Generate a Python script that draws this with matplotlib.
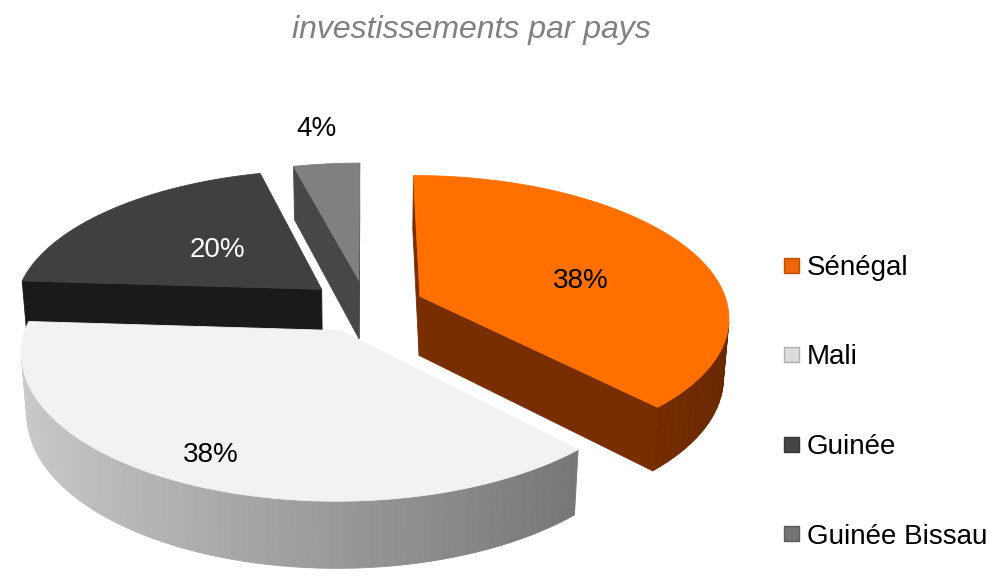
import numpy as np
import matplotlib
matplotlib.use("Agg")
import matplotlib.pyplot as plt
from matplotlib.patches import Polygon, Rectangle

# ---------------- data ----------------
categories = ["Sénégal", "Mali", "Guinée", "Guinée Bissau"]
values = [38, 38, 20, 4]
title = "investissements par pays"

# ---------------- style ----------------
top_colors = [(1.00, 0.44, 0.00), (0.95, 0.95, 0.95), (0.25, 0.25, 0.25), (0.50, 0.50, 0.50)]
wall_base = [(0.80, 0.30, 0.0), (0.80, 0.80, 0.80), (0.20, 0.20, 0.20), (0.35, 0.35, 0.35)]
radial_colors = [(0.47, 0.18, 0.0), (0.55, 0.55, 0.55), (0.10, 0.10, 0.10), (0.28, 0.28, 0.28)]
legend_colors = [(0.93, 0.40, 0.02), (0.86, 0.86, 0.86), (0.27, 0.27, 0.27), (0.45, 0.45, 0.45)]
label_radius = [0.55, 0.84, 0.47, 1.35]
label_shift_deg = [-10, 0, 0, 0]

W, H = 991, 577
fig = plt.figure(figsize=(W / 100, H / 100), dpi=100)
ax = fig.add_axes([0, 0, 1, 1])
ax.set_xlim(0, W)
ax.set_ylim(H, 0)
ax.axis("off")

FONT = "Liberation Sans"

# camera / projection
phi = np.radians(27)
sphi, cphi = np.sin(phi), np.cos(phi)
D = 6.5
F = 308 * D
cx, cy = 366, 306
h = 0.22
explode = 0.19
cam = np.array([0.0, -D * cphi, D * sphi])


def proj(P):
    X, Y, Z = P
    yv = Y * sphi + Z * cphi
    zv = D + Y * cphi - Z * sphi
    return (cx + F * X / zv, cy - F * yv / zv)


def shade(base, f):
    return tuple(min(1, max(0, c * f)) for c in base)


total = float(sum(values))
cum = np.concatenate([[0], np.cumsum(values)]) / total
slices = []
for i, v in enumerate(values):
    t0 = 90 - cum[i] * 360      # start (clockwise)
    t1 = 90 - cum[i + 1] * 360  # end
    a, b = np.radians(t1), np.radians(t0)  # ccw from a to b
    m = 0.5 * (a + b)
    o = explode * np.array([np.cos(m), np.sin(m), 0.0])
    slices.append((i, a, b, m, o))


def dist(P):
    return np.linalg.norm(np.asarray(P) - cam)


# order slices far -> near
order = sorted(slices, key=lambda s: -dist(s[4] + 0.5 * np.array([np.cos(s[3]), np.sin(s[3]), 0])))

for (i, a, b, m, o) in order:
    n = max(8, int(np.degrees(b - a) / 2))
    th = np.linspace(a, b, n + 1)
    arc_top = [o + np.array([np.cos(t), np.sin(t), 0.0]) for t in th]
    arc_bot = [o + np.array([np.cos(t), np.sin(t), -h]) for t in th]
    apex_t = o.copy()
    apex_b = o + np.array([0, 0, -h])
    faces = []
    # outer wall
    for j in range(n):
        tm = 0.5 * (th[j] + th[j + 1])
        nrm = np.array([np.cos(tm), np.sin(tm), 0.0])
        ctr = (arc_top[j] + arc_top[j + 1] + arc_bot[j] + arc_bot[j + 1]) / 4
        if np.dot(nrm, cam - ctr) > 0:
            f = 1.0 - 0.25 * (1 + np.cos(tm))
            col = shade(wall_base[i], f)
            faces.append((dist(ctr), [arc_top[j], arc_top[j + 1], arc_bot[j + 1], arc_bot[j]], col))
    # radial faces
    for ang, nrm in ((a, np.array([np.sin(a), -np.cos(a), 0.0])),
                     (b, np.array([-np.sin(b), np.cos(b), 0.0]))):
        e_t = o + np.array([np.cos(ang), np.sin(ang), 0.0])
        e_b = e_t + np.array([0, 0, -h])
        ctr = (apex_t + apex_b + e_t + e_b) / 4
        if np.dot(nrm, cam - ctr) > 0:
            faces.append((dist(ctr), [apex_t, e_t, e_b, apex_b], radial_colors[i]))
    faces.sort(key=lambda q: -q[0])
    for _, pts, col in faces:
        ax.add_patch(Polygon([proj(p) for p in pts], closed=True, facecolor=col,
                             edgecolor=col, linewidth=0.6, zorder=2))
    top = [apex_t] + arc_top
    ax.add_patch(Polygon([proj(p) for p in top], closed=True, facecolor=top_colors[i],
                         edgecolor=top_colors[i], linewidth=0.6, zorder=2))
    # label
    r = label_radius[i]
    la = m + np.radians(label_shift_deg[i])
    lp = o + r * np.array([np.cos(la), np.sin(la), 0.0])
    px, py = proj(lp)
    ax.text(px, py, f"{values[i] / total * 100:.0f}%", fontsize=20, family=FONT,
            color="white" if i == 2 else "black", ha="center", va="center", zorder=5)

# title
ax.text(471, 30, title, fontsize=23, family=FONT, style="italic", color="#808080",
        ha="center", va="center")

# legend
ly0, lsp = 265, 89.5
for i, name in enumerate(categories):
    y = ly0 + i * lsp
    ax.add_patch(Rectangle((784, y - 7.5), 15, 15, facecolor=legend_colors[i],
                           edgecolor=shade(legend_colors[i], 0.8), linewidth=1, zorder=3))
    ax.text(807, y + 10, name, fontsize=20, family=FONT, color="black",
            ha="left", va="baseline")

fig.savefig("out.png", dpi=100)
